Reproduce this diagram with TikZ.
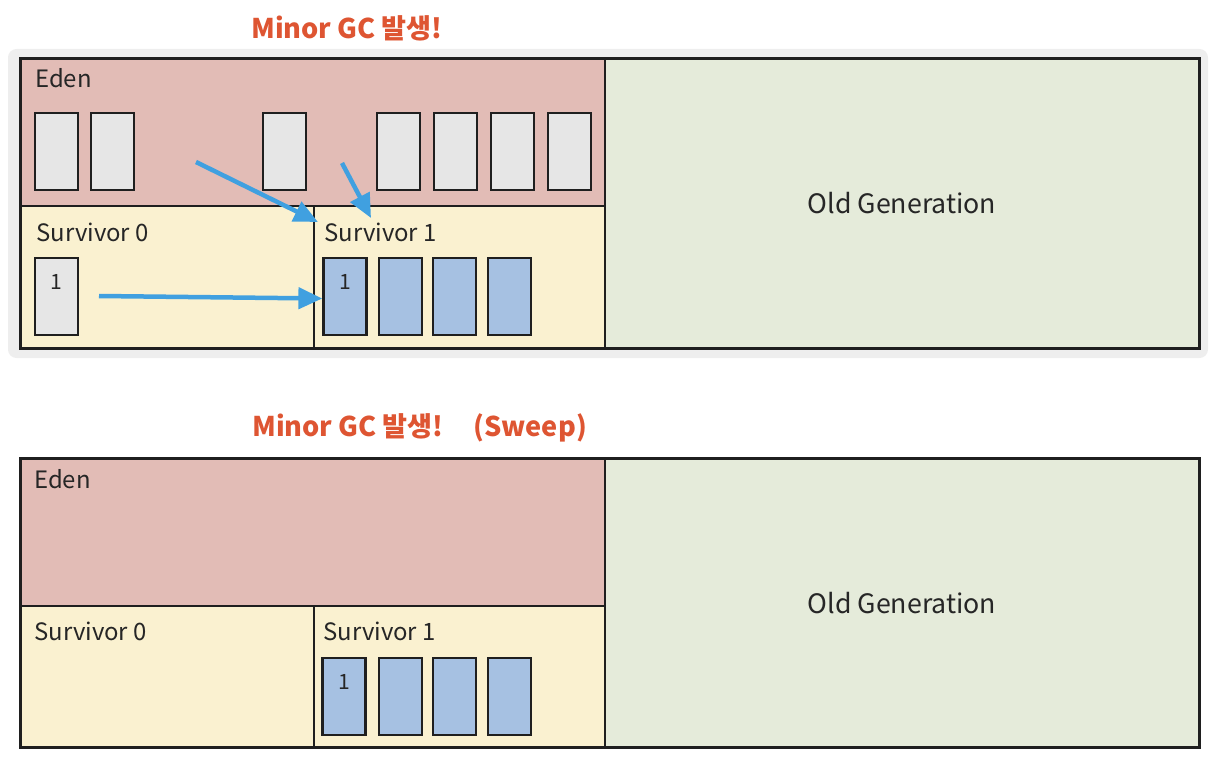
\documentclass[tikz,border=0pt]{standalone}
\usepackage{fontspec}
\setmainfont{Noto Sans CJK KR}
\usetikzlibrary{arrows.meta,positioning}
\definecolor{edenFill}{RGB}{226,188,182}
\definecolor{survFill}{RGB}{250,241,208}
\definecolor{oldFill}{RGB}{229,235,218}
\definecolor{objFill}{RGB}{230,230,230}
\definecolor{liveFill}{RGB}{166,193,226}
\definecolor{moveBlue}{RGB}{64,160,224}
\definecolor{titleRed}{RGB}{222,85,50}
\definecolor{shadowGray}{RGB}{238,238,238}
\colorlet{ink}{black!88}
\tikzset{
  region/.style={draw=ink, line width=1.3pt, anchor=north west, inner sep=0pt},
  outer/.style={draw=ink, line width=2pt},
  obj/.style={draw=ink, fill=objFill, line width=1.7pt, minimum width=1.075cm, minimum height=1.925cm, inner sep=0pt},
  live/.style={obj, fill=liveFill},
  lbl/.style={font=\fontsize{17}{20}\selectfont, text=black!85, inner sep=0pt},
  num/.style={font=\fontsize{15}{18}\selectfont, text=black!85, inner sep=0pt},
  title/.style={font=\fontsize{19.3}{23}\selectfont\bfseries, text=titleRed, inner sep=0pt},
  move/.style={-{Triangle[length=17pt,width=15pt]}, draw=moveBlue, line width=3.2pt}
}

\begin{document}
\begin{tikzpicture}[x=0.025cm,y=-0.025cm]
  \useasboundingbox (0,0) rectangle (1210,768);

  % ---- before sweep ----
  \fill[shadowGray, rounded corners=6pt] (8,49) rectangle (1208,358);
  \node[title] (title1) at (347,28) {Minor GC 발생!};

  \node[region, fill=edenFill, minimum width=14.6cm, minimum height=3.675cm] (eden) at (20,58) {};
  \node[region, fill=survFill, minimum width=7.325cm, minimum height=3.55cm] (surv0) at (20,205) {};
  \node[region, fill=survFill, minimum width=7.275cm, minimum height=3.55cm] (surv1) at (313,205) {};
  \node[region, fill=oldFill, minimum width=14.85cm, minimum height=7.225cm] (old) at (604,58) {};
  \draw[outer] (eden.north west) rectangle (old.south east);

  \node[lbl, anchor=base west] (edenLbl) at (35,88) {Eden};
  \node[lbl, anchor=base west] (surv0Lbl) at (36,241) {Survivor 0};
  \node[lbl, anchor=base west] (surv1Lbl) at (324,241) {Survivor 1};
  \node[lbl, font=\fontsize{19}{22}\selectfont] (oldLbl) at (old.center) {Old Generation};

  \foreach \x [count=\i] in {56.5,112.5,284.5,398.5,455.5,512.5,569.5}
    \node[obj] (e\i) at (\x,151.5) {};

  \node[obj] (s0a) at (56.5,296.5) {};
  \node[num] at ([yshift=-0.62cm]s0a.north) {1};
  \foreach \x [count=\i] in {345,400.5,454.5,509.5}
    \node[live] (s1\i) at (\x,296.5) {};
  \node[num] at ([yshift=-0.62cm]s11.north) {1};

  \coordinate (from1) at (196,162);
  \coordinate (to1) at (318,222);
  \coordinate (from2) at (342,163);
  \coordinate (to2) at (371,218);
  \coordinate (from3) at (99,296);
  \draw[move] (from1) -- (to1);
  \draw[move] (from2) -- (to2);
  \draw[move] (from3) -- ([yshift=-0.05cm]s11.west);

  % ---- after sweep ----
  \node[title, anchor=west] (title2) at (252,428) {Minor GC 발생!\hspace*{1.1em}(Sweep)};

  \node[region, fill=edenFill, minimum width=14.6cm, minimum height=3.675cm] (edenB) at (20,458) {};
  \node[region, fill=survFill, minimum width=7.325cm, minimum height=3.525cm] (surv0B) at (20,605) {};
  \node[region, fill=survFill, minimum width=7.275cm, minimum height=3.525cm] (surv1B) at (313,605) {};
  \node[region, fill=oldFill, minimum width=14.85cm, minimum height=7.2cm] (oldB) at (604,458) {};
  \draw[outer] (edenB.north west) rectangle (oldB.south east);

  \node[lbl, anchor=base west] (edenBLbl) at (34,488) {Eden};
  \node[lbl, anchor=base west] (surv0BLbl) at (34,640) {Survivor 0};
  \node[lbl, anchor=base west] (surv1BLbl) at (323,640) {Survivor 1};
  \node[lbl, font=\fontsize{19}{22}\selectfont] (oldBLbl) at (oldB.center) {Old Generation};

  \foreach \x [count=\i] in {344,400.5,454.5,509.5}
    \node[live] (t1\i) at (\x,696.5) {};
  \node[num] at ([yshift=-0.62cm]t11.north) {1};
\end{tikzpicture}
\end{document}
